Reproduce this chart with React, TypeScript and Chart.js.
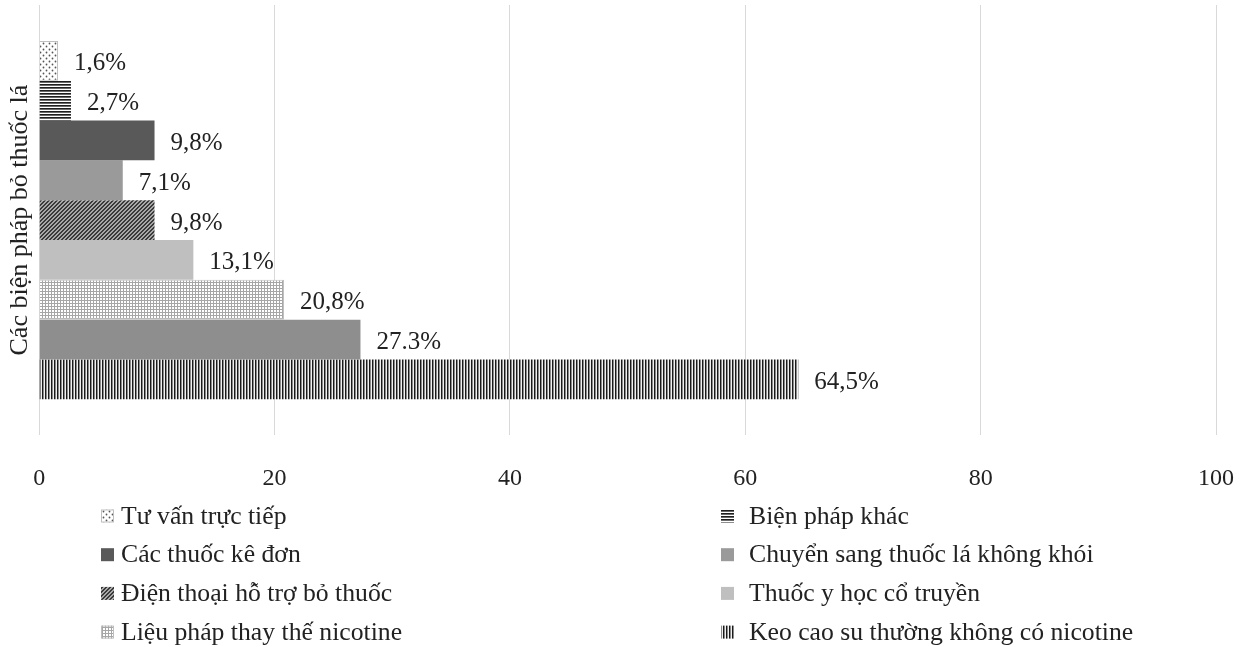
import React, { useEffect, useRef } from 'react';
import { Chart, registerables } from 'chart.js';

Chart.register(...registerables);

// Survey data: share of respondents using each quitting method (%)
const categories = ['Các biện pháp bỏ thuốc lá'];
const methodNames = [
  'Tư vấn trực tiếp',
  'Biện pháp khác',
  'Các thuốc kê đơn',
  'Chuyển sang thuốc lá không khói',
  'Điện thoại hỗ trợ bỏ thuốc',
  'Thuốc y học cổ truyền',
  'Liệu pháp thay thế nicotine',
  '',
  'Keo cao su thường không có nicotine',
];
const percentages = [1.6, 2.7, 9.8, 7.1, 9.8, 13.1, 20.8, 27.3, 64.5];
const decimalSeparators = [',', ',', ',', ',', ',', ',', ',', '.', ','];
const axisMin = 0;
const axisMax = 100;
const axisStep = 20;

const FONT = "'Liberation Serif', 'Times New Roman', serif";
const TEXT = '#222222';

type FillKind = 'dots' | 'hlines' | 'diag' | 'grid' | 'vlines' | string;
const fillKinds: FillKind[] = ['dots', 'hlines', '#595959', '#9a9a9a', 'diag', '#bfbfbf', 'grid', '#8e8e8e', 'vlines'];
const outlined = [true, false, false, false, false, false, true, false, false];

function makeTile(w: number, h: number, paint: (g: CanvasRenderingContext2D) => void) {
  const c = document.createElement('canvas');
  c.width = w;
  c.height = h;
  const g = c.getContext('2d')!;
  paint(g);
  return c;
}

function makeFill(ctx: CanvasRenderingContext2D, kind: FillKind): string | CanvasPattern {
  let tile: HTMLCanvasElement;
  switch (kind) {
    case 'dots':
      tile = makeTile(6, 6, (g) => {
        g.fillStyle = '#ffffff';
        g.fillRect(0, 0, 6, 6);
        g.fillStyle = '#555555';
        g.beginPath();
        g.arc(1.5, 1.5, 0.9, 0, Math.PI * 2);
        g.arc(4.5, 4.5, 0.9, 0, Math.PI * 2);
        g.fill();
      });
      break;
    case 'hlines':
      tile = makeTile(4, 3, (g) => {
        g.fillStyle = '#ffffff';
        g.fillRect(0, 0, 4, 3);
        g.fillStyle = '#1f1f1f';
        g.fillRect(0, 0, 4, 1);
        g.fillStyle = '#6a6a6a';
        g.fillRect(0, 1, 4, 1);
      });
      break;
    case 'vlines':
      tile = makeTile(3, 4, (g) => {
        g.fillStyle = '#f0f0f0';
        g.fillRect(0, 0, 3, 4);
        g.fillStyle = '#1a1a1a';
        g.fillRect(0, 0, 1, 4);
        g.fillStyle = '#8a8a8a';
        g.fillRect(1, 0, 1, 4);
      });
      break;
    case 'diag':
      tile = makeTile(4, 4, (g) => {
        for (let x = 0; x < 4; x++) {
          for (let y = 0; y < 4; y++) {
            g.fillStyle = (x + y) % 4 < 2 ? '#3a3a3a' : '#a8a8a8';
            g.fillRect(x, y, 1, 1);
          }
        }
      });
      break;
    case 'grid':
      tile = makeTile(3, 3, (g) => {
        g.fillStyle = '#ffffff';
        g.fillRect(0, 0, 3, 3);
        g.fillStyle = '#a6a6a6';
        g.fillRect(0, 0, 3, 1);
        g.fillRect(0, 0, 1, 3);
      });
      break;
    default:
      return kind;
  }
  return ctx.createPattern(tile, 'repeat')!;
}

// Percentage text placed just past the end of each bar
const valueLabels = {
  id: 'valueLabels',
  afterDatasetsDraw(chart: any) {
    const g: CanvasRenderingContext2D = chart.ctx;
    g.save();
    g.font = `25px ${FONT}`;
    g.fillStyle = TEXT;
    g.textAlign = 'left';
    g.textBaseline = 'middle';
    chart.data.datasets.forEach((ds: any, i: number) => {
      const meta = chart.getDatasetMeta(i);
      meta.data.forEach((el: any, j: number) => {
        const v = ds.data[j] as number;
        const text = v.toFixed(1).replace('.', decimalSeparators[i]) + '%';
        g.fillText(text, el.x + 16, el.y + 3);
      });
    });
    g.restore();
  },
};

// Two-column legend under the axis
const twoColumnLegend = {
  id: 'twoColumnLegend',
  afterDraw(chart: any) {
    const g: CanvasRenderingContext2D = chart.ctx;
    g.save();
    g.font = `25.7px ${FONT}`;
    g.textAlign = 'left';
    g.textBaseline = 'middle';
    const items = chart.data.datasets.filter((ds: any) => ds.label);
    items.forEach((ds: any, k: number) => {
      const col = k % 2;
      const row = Math.floor(k / 2);
      const sx = col === 0 ? 101 : 721;
      const tx = col === 0 ? 121 : 749;
      const top = 509.5 + row * 38.7;
      g.fillStyle = ds.backgroundColor;
      g.fillRect(sx, top, 13, 13);
      if (ds.borderWidth) {
        g.strokeStyle = ds.borderColor;
        g.lineWidth = 1;
        g.strokeRect(sx + 0.5, top + 0.5, 12, 12);
      }
      g.fillStyle = TEXT;
      g.fillText(ds.label, tx, top + 7.5);
    });
    g.restore();
  },
};

export default function App() {
  const ref = useRef<HTMLCanvasElement>(null);

  useEffect(() => {
    document.body.style.margin = '0';
    const canvas = ref.current!;
    const ctx = canvas.getContext('2d')!;
    const datasets = methodNames.map((name, i) => ({
      label: name,
      data: [percentages[i]],
      backgroundColor: makeFill(ctx, fillKinds[i]) as any,
      borderColor: outlined[i] ? '#bfbfbf' : 'rgba(0,0,0,0)',
      borderWidth: outlined[i] ? 1 : 0,
      categoryPercentage: 0.833,
      barPercentage: 1,
    }));

    const chart = new Chart(canvas, {
      type: 'bar',
      data: { labels: categories, datasets },
      options: {
        indexAxis: 'y',
        responsive: false,
        animation: false,
        devicePixelRatio: 1,
        layout: { padding: { top: 5, right: 31, bottom: 125, left: 0 } },
        plugins: {
          legend: { display: false },
          tooltip: { enabled: false },
        },
        scales: {
          x: {
            min: axisMin,
            max: axisMax,
            ticks: { stepSize: axisStep, font: { family: FONT, size: 24 }, color: TEXT, padding: 29 },
            grid: { color: '#d9d9d9', lineWidth: 1, drawTicks: false },
            border: { display: false },
            afterFit(scale: any) {
              // end labels may overhang into the page margin
              scale.paddingLeft = 0;
              scale.paddingRight = 0;
            },
          },
          y: {
            ticks: { display: false },
            grid: { display: false, drawTicks: false },
            border: { display: false },
            title: {
              display: true,
              text: categories[0],
              font: { family: FONT, size: 26 },
              color: TEXT,
              padding: { top: 5, bottom: 3 },
            },
          },
        },
      },
      plugins: [valueLabels, twoColumnLegend],
    });
    return () => chart.destroy();
  }, []);

  return (
    <div style={{ width: 1247, height: 647 }}>
      <canvas ref={ref} width={1247} height={647} style={{ display: 'block' }} />
    </div>
  );
}
